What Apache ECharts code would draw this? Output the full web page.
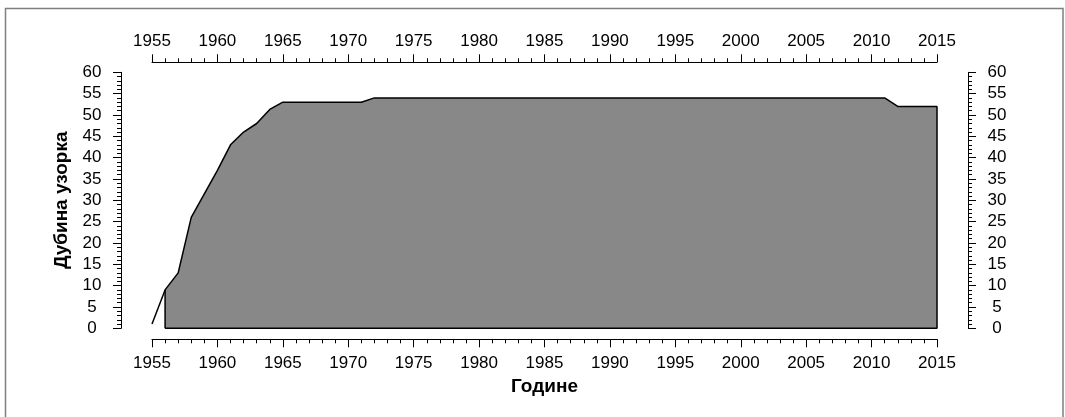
<!DOCTYPE html>
<html>
<head>
<meta charset="utf-8">
<script src="https://cdn.jsdelivr.net/npm/echarts@6/dist/echarts.min.js"></script>
<style>
html,body{margin:0;padding:0;background:#fff;}
#chart{width:1065px;height:417px;}
</style>
</head>
<body>
<div id="chart"></div>
<script>
// Data
var years = [1955,1956,1957,1958,1959,1960,1961,1962,1963,1964,1965,1966,1967,1968,1969,1970,1971,1972,1973,1974,1975,1976,1977,1978,1979,1980,1981,1982,1983,1984,1985,1986,1987,1988,1989,1990,1991,1992,1993,1994,1995,1996,1997,1998,1999,2000,2001,2002,2003,2004,2005,2006,2007,2008,2009,2010,2011,2012,2013,2014,2015];
var depth = [1,9,13,26,31.5,37,43,46,48,51.3,53,53,53,53,53,53,53,54,54,54,54,54,54,54,54,54,54,54,54,54,54,54,54,54,54,54,54,54,54,54,54,54,54,54,54,54,54,54,54,54,54,54,54,54,54,54,54,52,52,52,52];
var fillStartYear = 1956;
var xTitle = 'Године';
var yTitle = 'Дубина узорка';

// Build series data
var leadLine = [];
var poly = [];
for (var i = 0; i < years.length; i++) {
  if (years[i] <= fillStartYear) leadLine.push([years[i], depth[i]]);
  if (years[i] >= fillStartYear) poly.push([years[i], depth[i]]);
}
poly.unshift([fillStartYear, 0]);
poly.push([years[years.length-1], 0]);
poly.push([fillStartYear, 0]);

var FONT = '"Liberation Sans", Arial, sans-serif';
var lbl = {color:'#000', fontSize:17, fontFamily:FONT, formatter:function(v){return String(v);}};
var axLine = {show:true, onZero:false, lineStyle:{color:'#000', width:1}};
function xAx(pos, offset, margin, withName){
  var a = {
    type:'value', position:pos, offset:offset, min:1955, max:2015, interval:5,
    axisLine:axLine,
    axisTick:{show:true, inside:false, length:8, lineStyle:{color:'#000', width:1}},
    minorTick:{show:true, splitNumber:5, length:4, lineStyle:{color:'#000', width:1}},
    axisLabel:Object.assign({margin:margin}, lbl),
    splitLine:{show:false}
  };
  if (withName) {
    a.name = xTitle; a.nameLocation='middle'; a.nameGap=33;
    a.nameTextStyle={color:'#000', fontSize:19, fontWeight:'bold', fontFamily:FONT};
  }
  return a;
}
function yAx(pos, offset, withName){
  var a = {
    type:'value', position:pos, offset:offset, min:0, max:60, interval:5,
    axisLine:axLine,
    axisTick:{show:true, inside:false, length:8, lineStyle:{color:'#000', width:1}},
    minorTick:{show:true, splitNumber:5, length:4, lineStyle:{color:'#000', width:1}},
    axisLabel:Object.assign({margin:29, align:'center'}, lbl),
    splitLine:{show:false}
  };
  if (withName) {
    a.name = yTitle; a.nameLocation='middle'; a.nameGap=46; a.nameRotate=90;
    a.nameTextStyle={color:'#000', fontSize:19, fontWeight:'bold', fontFamily:FONT};
  }
  return a;
}

var chart = echarts.init(document.getElementById('chart'), null, {renderer:'canvas'});
chart.setOption({
  backgroundColor:'#fff',
  animation:false,
  grid:{left:152, right:128, top:72.3, bottom:88.7, containLabel:false},
  xAxis:[xAx('bottom', 11, 16, true), xAx('top', 10, 12, false)],
  yAxis:[yAx('left', 31, true), yAx('right', 31, false)],
  graphic:[{
    type:'rect', silent:true, z:-10,
    shape:{x:5.5, y:8.5, width:1057.5, height:420},
    style:{fill:'none', stroke:'#7f7f7f', lineWidth:1.5}
  }],
  series:[
    {
      type:'line', data:poly, xAxisIndex:0, yAxisIndex:0,
      symbol:'none', clip:false, smooth:false,
      lineStyle:{color:'#000', width:1.5},
      areaStyle:{color:'#888888', opacity:1}
    },
    {
      type:'line', data:leadLine, xAxisIndex:0, yAxisIndex:0,
      symbol:'none', clip:false,
      lineStyle:{color:'#000', width:1.5}
    }
  ]
});
</script>
</body>
</html>
